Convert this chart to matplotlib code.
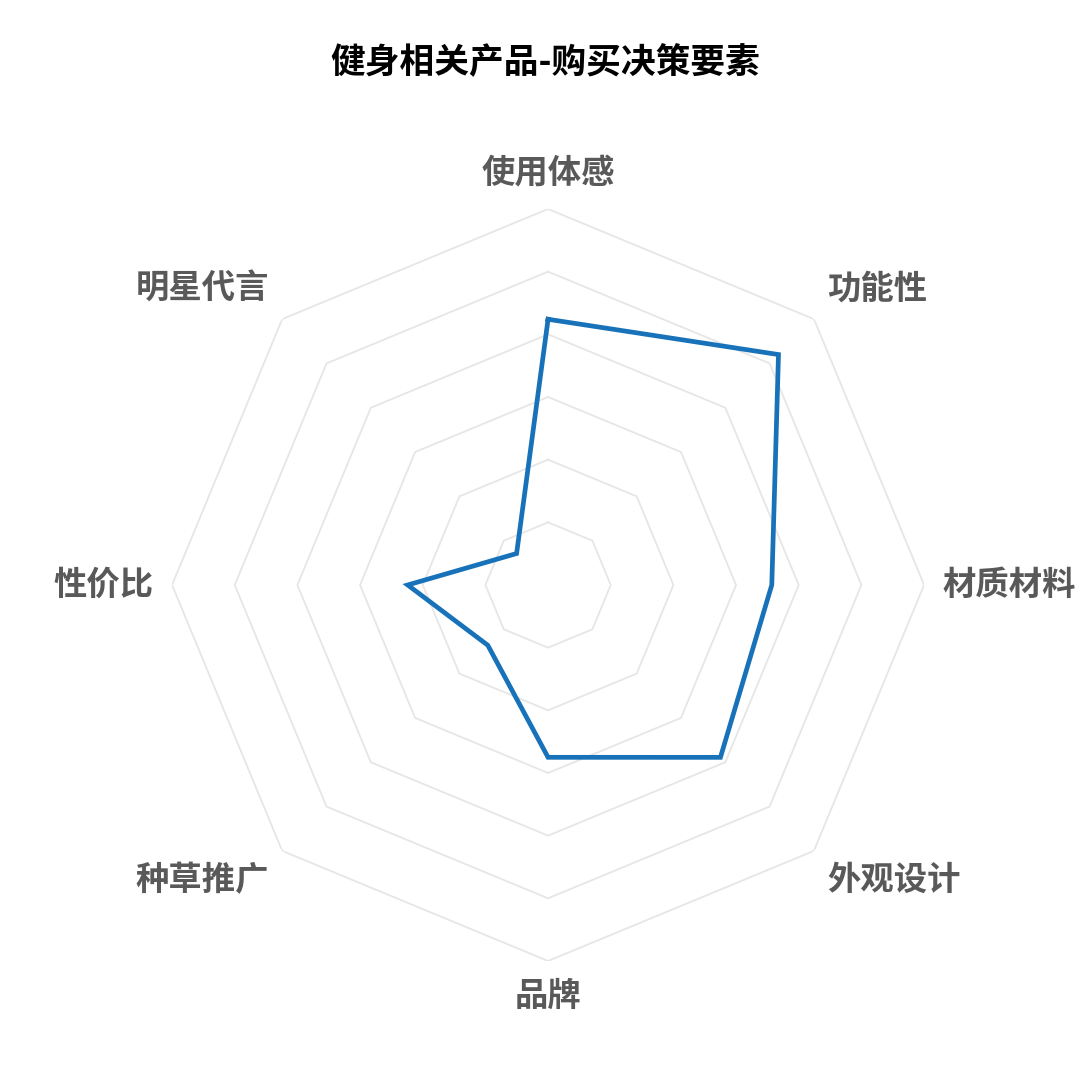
import numpy as np
import matplotlib
matplotlib.use("Agg")
import matplotlib.pyplot as plt

plt.rcParams['font.family'] = ['Noto Sans CJK SC', 'DejaVu Sans']

#Categories clockwise from the top, and the scores
categories = ["使用体感", "功能性", "材质材料", "外观设计", "品牌", "种草推广", "性价比", "明星代言"]
values = [42.4, 52.0, 35.7, 38.9, 27.5, 13.6, 22.4, 7.1]
ring_levels = [10, 20, 30, 40, 50, 60]
r_max = 60

n = len(categories)
angles = np.arange(n) * 2 * np.pi / n
closed = np.append(angles, angles[0])

fig = plt.figure(figsize=(10.91, 10.80), dpi=100)
ax = fig.add_axes([0.1577, 0.1102, 0.6893, 0.6963], projection="polar")
ax.set_theta_zero_location("N")
ax.set_theta_direction(-1)
ax.set_ylim(0, r_max)
ax.axis("off")

#Polygon grid rings
for lvl in ring_levels:
    ax.plot(closed, [lvl] * (n + 1), color="#e6e6e6", linewidth=1.3, zorder=1)

#Data line
ax.plot(closed, values + values[:1], color="#1872b9", linewidth=3.4,
        solid_joinstyle="miter", zorder=3)

#Axis labels placed just outside the outer ring
label_r = 63
for ang, name in zip(angles, categories):
    s, c = np.sin(ang), np.cos(ang)
    ha = "center" if abs(s) < 0.1 else ("left" if s > 0 else "right")
    va = "center" if abs(c) < 0.1 else ("bottom" if c > 0 else "top")
    ax.text(ang, label_r, name, ha=ha, va=va, fontsize=24, fontweight="bold",
            color="#595959", clip_on=False)

fig.text(0.5, 0.942, "健身相关产品-购买决策要素", ha="center", va="center",
         fontsize=25, fontweight="bold", color="black")

fig.savefig("out.png", dpi=100, facecolor="white")
